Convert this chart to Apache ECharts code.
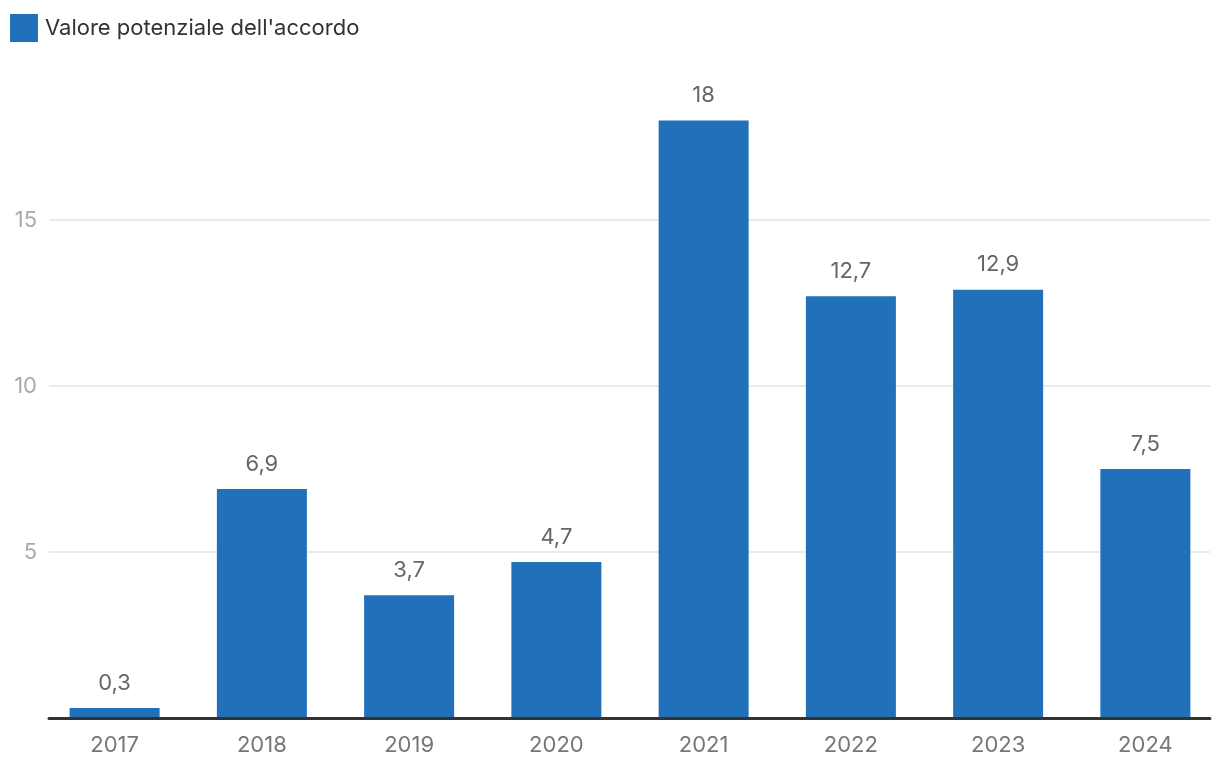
<!DOCTYPE html>
<html><head><meta charset="utf-8">
<script src="https://cdn.jsdelivr.net/npm/echarts@6/dist/echarts.min.js"></script>
<style>html,body{margin:0;padding:0;background:#fff}#c{width:1220px;height:778px}</style>
</head><body><div id="c"></div>
<script>
const categories = ['2017','2018','2019','2020','2021','2022','2023','2024'];
const values = [0.3, 6.9, 3.7, 4.7, 18, 12.7, 12.9, 7.5];
const seriesName = "Valore potenziale dell'accordo";
const chart = echarts.init(document.getElementById('c'));
const fmt = v => String(v).replace('.', ',');
const FONT = 'Inter';
chart.setOption({
  animation: false,
  textStyle: {fontFamily: FONT},
  legend: {
    left: 8, top: 12, padding: 2, itemWidth: 28, itemHeight: 28, itemGap: 10,
    icon: 'rect',
    textStyle: {fontSize: 22, color: '#333', fontFamily: FONT, padding: [0,0,0,2]},
    data: [seriesName]
  },
  grid: [
    {left: 41, right: 1, top: 54, bottom: 60},
    {left: 49, right: 10, top: 54, bottom: 60}
  ],
  xAxis: [{
    type: 'category', data: categories, gridIndex: 0,
    axisLine: {show: false},
    axisTick: {show: false},
    axisLabel: {fontSize: 22, color: '#777', margin: 16, fontFamily: FONT}
  }, {
    type: 'category', data: categories, gridIndex: 1, z: 5,
    axisLine: {lineStyle: {color: '#333', width: 3}},
    axisTick: {show: false}, axisLabel: {show: false}
  }],
  yAxis: [{
    type: 'value', min: 0, max: 20, interval: 5, gridIndex: 0, show: false,
    splitLine: {show: false}
  }, {
    type: 'value', min: 0, max: 20, interval: 5, gridIndex: 1,
    axisLine: {show: false}, axisTick: {show: false},
    axisLabel: {fontSize: 22, color: '#aaa', margin: 12, showMaxLabel: false, fontFamily: FONT,
      formatter: v => v === 0 ? '' : fmt(v)},
    splitLine: {lineStyle: {color: '#e3e3e3', width: 1.5}, showMaxLine: false, showMinLine: false}
  }],
  series: [{
    name: seriesName, type: 'bar', data: values, barWidth: 90,
    xAxisIndex: 0, yAxisIndex: 0,
    itemStyle: {color: '#2070ba'},
    label: {show: true, position: 'top', distance: 14, fontSize: 22, color: '#666', fontFamily: FONT,
      formatter: p => fmt(p.value)}
  }]
});
</script></body></html>
